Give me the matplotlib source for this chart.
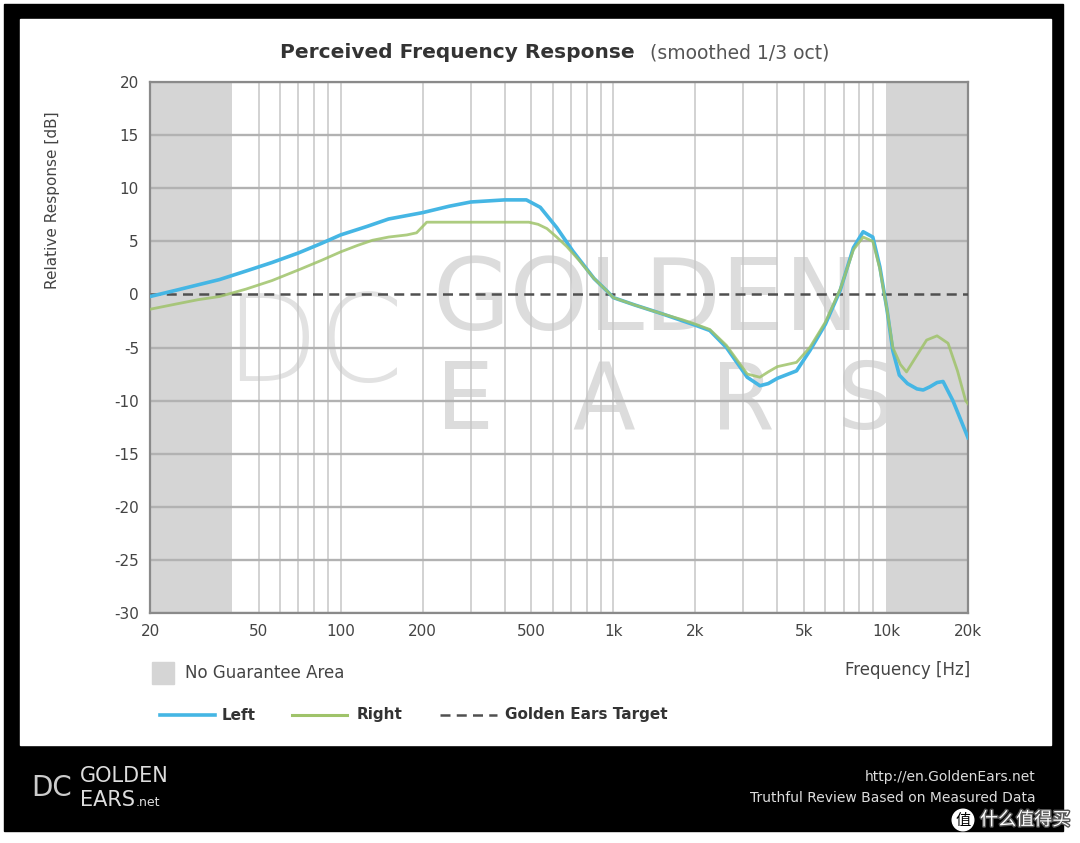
import matplotlib
matplotlib.use("Agg")
import matplotlib.pyplot as plt
import matplotlib.patheffects as pe
from matplotlib.patches import Rectangle
from matplotlib.lines import Line2D

plt.rcParams["axes.unicode_minus"] = False

# values
left_freq = [20, 25, 30, 36, 45, 56, 70, 85, 100, 125, 150, 200, 250, 300, 400, 480, 540, 620, 710,
             850, 950, 1000, 1200, 1500, 1800, 2000, 2260, 2600, 3100, 3450, 3700, 4000, 4700, 5260,
             6000, 6800, 7600, 8250, 8950, 9500, 10100, 10600, 11200, 12000, 13000, 13700, 14500,
             15400, 16200, 17600, 18800, 20000]
left_db = [-0.2, 0.4, 0.9, 1.4, 2.2, 3.0, 3.9, 4.8, 5.6, 6.4, 7.1, 7.7, 8.3, 8.7, 8.9, 8.9, 8.2, 6.3, 4.1,
           1.5, 0.3, -0.3, -1.0, -1.8, -2.5, -2.9, -3.4, -5.0, -7.8, -8.6, -8.4, -7.9, -7.2, -5.3,
           -2.8, 0.4, 4.4, 5.9, 5.4, 2.6, -1.5, -5.3, -7.6, -8.4, -8.9, -9.0, -8.7,
           -8.3, -8.2, -10.0, -11.8, -13.5]

right_freq = [20, 25, 30, 36, 45, 56, 70, 85, 100, 115, 131, 150, 175, 190, 207, 250, 300, 400, 490,
              530, 571, 620, 676, 750, 850, 950, 1000, 1200, 1500, 1800, 2000, 2260, 2600, 3100,
              3450, 3700, 4000, 4700, 5260, 6000, 6800, 7600, 8250, 8950, 9500, 10100, 10600,
              11300, 11900, 12800, 14100, 15400, 16900, 18300, 19600, 20000]
right_db = [-1.4, -0.9, -0.5, -0.2, 0.5, 1.3, 2.3, 3.2, 4.0, 4.6, 5.1, 5.4, 5.6, 5.8, 6.8, 6.8, 6.8, 6.8, 6.8,
            6.6, 6.2, 5.4, 4.5, 3.2, 1.5, 0.3, -0.3, -1.0, -1.8, -2.4, -2.8, -3.3, -4.8, -7.5,
            -7.8, -7.3, -6.8, -6.4, -5.0, -2.6, 0.5, 4.2, 5.4, 5.0, 2.4, -1.5, -5.0,
            -6.6, -7.3, -6.0, -4.3, -3.9, -4.6, -7.2, -10.0, -10.3]

target_freq = [20, 20000]
target_db = [0, 0]

no_guarantee = [(20, 40), (10000, 20000)]

xticks = [20, 50, 100, 200, 500, 1000, 2000, 5000, 10000, 20000]
xticklabels = ["20", "50", "100", "200", "500", "1k", "2k", "5k", "10k", "20k"]
yticks = list(range(-30, 25, 5))

W, H = 1080, 843
fig = plt.figure(figsize=(W / 100, H / 100), dpi=100)
fig.patch.set_facecolor("white")


def fx(px):
    return px / W


def fy(py):
    return 1 - py / H


# black frame and white panel
fig.add_artist(Rectangle((fx(4), fy(831)), fx(1063) - fx(4), fy(4) - fy(831),
                         transform=fig.transFigure, color="black", zorder=-10))
fig.add_artist(Rectangle((fx(20), fy(745)), fx(1051) - fx(20), fy(19) - fy(745),
                         transform=fig.transFigure, color="white", zorder=-9))

ax = fig.add_axes([fx(150), fy(613), fx(968) - fx(150), fy(82) - fy(613)])
ax.set_xscale("log")
ax.set_xlim(20, 20000)
ax.set_ylim(-30, 20)

# grid: verticals only inside the guaranteed band
vlines = [m * 10 ** e for e in range(1, 5) for m in range(1, 10)]
for v in vlines:
    if 40 < v < 10000:
        ax.axvline(v, color="#c6c6c6", lw=1.1, zorder=0.5)
for a, b in no_guarantee:
    ax.axvspan(a, b, color="#d5d5d5", zorder=0.6, lw=0)
for t in yticks:
    if t != 0:
        ax.axhline(t, color="#b2b2b2", lw=1.7, zorder=0.7)

ax.set_xticks(xticks)
ax.set_xticklabels(xticklabels)
ax.set_yticks(yticks)
ax.xaxis.set_minor_locator(matplotlib.ticker.NullLocator())
ax.tick_params(which="both", length=0, colors="#444444", labelsize=11, pad=8)
for s in ax.spines.values():
    s.set_color("#8a8a8a")
    s.set_linewidth(1.6)

# watermark
wm = "#dcdcdc"
ax.text(0.345, 0.585, "GOLDEN", transform=ax.transAxes, fontsize=72, color=wm,
        ha="left", va="center", zorder=0.4)
for lx, ch in zip([0.385, 0.555, 0.725, 0.875], ["E", "A", "R", "S"]):
    ax.text(lx, 0.395, ch, transform=ax.transAxes, fontsize=66, color=wm,
            ha="center", va="center", zorder=0.4)
ax.text(0.2, 0.5, "DC", transform=ax.transAxes, fontsize=88, color="#e2e2e2",
        ha="center", va="center", zorder=0.4, fontweight="light")

ax.plot(target_freq, target_db, color="#505050", lw=1.8, ls=(0, (4, 2.5)), zorder=3)
ax.plot(left_freq, left_db, color="#45b6e4", lw=2.6, zorder=4)
ax.plot(right_freq, right_db, color="#9fc36a", lw=2.0, alpha=0.85, zorder=5)

ax.set_ylabel("Relative Response [dB]", fontsize=11, color="#444444")
ax.yaxis.set_label_coords(-0.11, 0.778)

fig.text(fx(280), fy(53), "Perceived Frequency Response", fontsize=14.5, fontweight="bold",
         color="#333333", ha="left", va="center")
fig.text(fx(650), fy(53), "(smoothed 1/3 oct)", fontsize=13.5, color="#555555",
         ha="left", va="center")

fig.text(fx(970), fy(670), "Frequency [Hz]", fontsize=12, color="#444444", ha="right", va="center")

# legend
fig.add_artist(Rectangle((fx(152), fy(684)), fx(22), fy(662) - fy(684),
                         transform=fig.transFigure, color="#d5d5d5"))
fig.text(fx(185), fy(673), "No Guarantee Area", fontsize=12, color="#444444", va="center")
fig.add_artist(Line2D([fx(160), fx(215)], [fy(715), fy(715)], color="#45b6e4", lw=2.6))
fig.text(fx(222), fy(715), "Left", fontsize=11, fontweight="bold", color="#333333", va="center")
fig.add_artist(Line2D([fx(292), fx(347)], [fy(715), fy(715)], color="#9fc36a", lw=2.2))
fig.text(fx(357), fy(715), "Right", fontsize=11, fontweight="bold", color="#333333", va="center")
fig.add_artist(Line2D([fx(440), fx(497)], [fy(715), fy(715)], color="#505050", lw=1.8,
                      ls=(0, (4, 2.5))))
fig.text(fx(505), fy(715), "Golden Ears Target", fontsize=11, fontweight="bold",
         color="#333333", va="center")

# footer
fig.text(fx(52), fy(788), "DC", fontsize=20, color="#cccccc", ha="center", va="center")
fig.text(fx(80), fy(776), "GOLDEN", fontsize=15, color="#dddddd", va="center")
fig.text(fx(80), fy(800), "EARS", fontsize=15, color="#dddddd", va="center")
fig.text(fx(136), fy(803), ".net", fontsize=9, color="#dddddd", va="center")
fig.text(fx(1036), fy(777), "http://en.GoldenEars.net", fontsize=10, color="#dddddd",
         ha="right", va="center")
fig.text(fx(1036), fy(798), "Truthful Review Based on Measured Data", fontsize=10,
         color="#dddddd", ha="right", va="center")
fig.text(fx(963), fy(820), "值", fontsize=11, color="black", ha="center", va="center",
         family=["Noto Sans CJK SC", "DejaVu Sans"],
         bbox=dict(boxstyle="circle,pad=0.15", fc="white", ec="white"))
fig.text(fx(980), fy(820), "什么值得买", fontsize=13, color="white", ha="left", va="center",
         family=["Noto Sans CJK SC", "DejaVu Sans"],
         path_effects=[pe.withStroke(linewidth=2, foreground="#555555")])

fig.savefig("out.png", dpi=100)
